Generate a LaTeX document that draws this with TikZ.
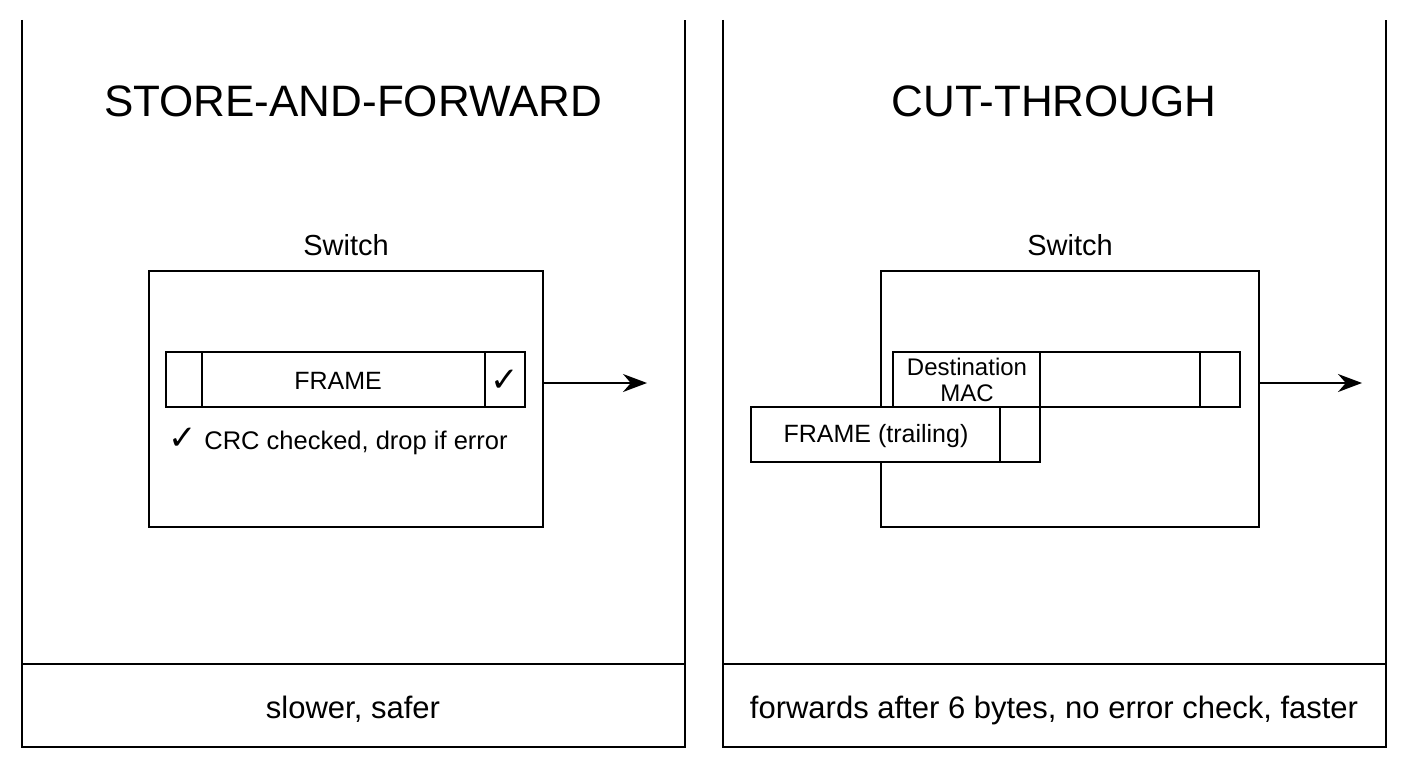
\documentclass[tikz,border=0pt]{standalone}
\usepackage{fontspec}
\usetikzlibrary{arrows.meta}
\setmainfont{Liberation Sans}
\newfontfamily\symf{DejaVu Sans}
\begin{document}
\begin{tikzpicture}[x=1pt,y=-1pt,line width=1.6pt,
 box/.style={draw,fill=white},
 arr/.style={-{Stealth[length=24pt,width=18pt]}},
 lbl/.style={inner sep=0pt,anchor=center}]
\useasboundingbox (0,0) rectangle (1408,768);
% panels
\draw (22,20) -- (22,747) -- (685,747) -- (685,20);
\draw (22,664) -- (685,664);
\draw (723,20) -- (723,747) -- (1386,747) -- (1386,20);
\draw (723,664) -- (1386,664);
\node[lbl,font=\fontsize{44}{50}\selectfont] (t1) at (353,101) {STORE-AND-FORWARD};
\node[lbl,font=\fontsize{44}{50}\selectfont] (t2) at (1054,101) {CUT-THROUGH};
\node[lbl,anchor=base,font=\fontsize{31}{32}\selectfont] (b1) at (353,718) {slower, safer};
\node[lbl,anchor=base,font=\fontsize{31}{32}\selectfont] (b2) at (1054,718) {forwards after 6 bytes, no error check, faster};
% left switch
\node[lbl,font=\fontsize{29}{30}\selectfont] (s1) at (346,245) {Switch};
\node[box,minimum width=394pt,minimum height=256pt,inner sep=0pt] (sw1) at (346,399) {};
\draw (166,352) rectangle (525,407);
\draw (202,352) -- (202,407) (485,352) -- (485,407);
\node[lbl,font=\fontsize{25}{26}\selectfont] (f1) at (338,381) {FRAME};
\node[lbl,font=\symf\fontsize{34}{36}\selectfont] (ck) at (505,381) {✓};
\node[lbl,anchor=west,font=\fontsize{25.5}{26}\selectfont] (crc) at (168,441) {{\symf\fontsize{34}{36}\selectfont ✓} CRC checked, drop if error};
\coordinate (a1) at (647,383);
\draw[arr] (sw1.east |- a1) -- (a1);
% right switch
\node[lbl,font=\fontsize{29}{30}\selectfont] (s2) at (1070,245) {Switch};
\node[box,minimum width=378pt,minimum height=256pt,inner sep=0pt] (sw2) at (1070,399) {};
\draw[fill=white] (893,352) rectangle (1240,407);
\draw (1040,352) -- (1040,407) (1200,352) -- (1200,407);
\node[lbl,align=center,font=\fontsize{24}{26}\selectfont] (dm) at (967,380) {Destination\\MAC};
\draw[fill=white] (751,407) rectangle (1040,462);
\draw (1000,407) -- (1000,462);
\node[lbl,font=\fontsize{25}{26}\selectfont] (ft) at (876,436) {FRAME (trailing)};
\coordinate (a2) at (1362,383);
\draw[arr] (sw2.east |- a2) -- (a2);
\end{tikzpicture}
\end{document}
